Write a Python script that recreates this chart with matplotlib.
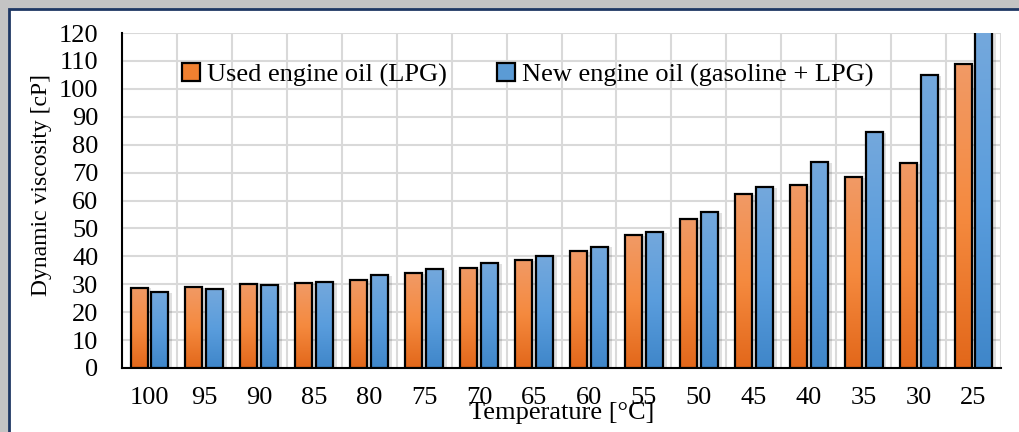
import matplotlib
matplotlib.use('Agg')
import matplotlib.pyplot as plt
import numpy as np
from matplotlib.patches import Rectangle
from matplotlib.colors import LinearSegmentedColormap

plt.rcParams['font.family'] = ['Liberation Serif', 'DejaVu Serif']

# 数据
temps = ['100', '95', '90', '85', '80', '75', '70', '65', '60', '55', '50', '45', '40', '35', '30', '25']
used_oil = [28.8, 29.1, 30.0, 30.4, 31.5, 34.0, 35.9, 38.8, 42.0, 47.6, 53.4, 62.3, 65.4, 68.3, 73.5, 109.0]
new_oil = [27.3, 28.2, 29.8, 30.7, 33.4, 35.5, 37.5, 40.1, 43.5, 48.8, 55.9, 64.7, 73.8, 84.5, 105.0, 125.0]
labels = ['Used engine oil (LPG)', 'New engine oil (gasoline + LPG)']

orange_cmap = LinearSegmentedColormap.from_list('o', ['#e2671a', '#f58a3f', '#f19a66'])
blue_cmap = LinearSegmentedColormap.from_list('b', ['#3f86c9', '#5a9ddd', '#74a8dc'])
YMAX = 120


def gradient_bars(ax, bars, cmap):
    """每根柱子用渐变填充"""
    grad = np.linspace(0, 1, 256).reshape(-1, 1)
    for b in bars:
        x0, y0 = b.get_x(), b.get_y()
        w, h = b.get_width(), b.get_height()
        top = min(y0 + h, YMAX)
        # 阴影
        ax.add_patch(Rectangle((x0 + 0.03, y0), w + 0.04, top - y0 - 0.3, facecolor='#000000',
                               alpha=0.12, linewidth=0, zorder=2))
        im = ax.imshow(grad, cmap=cmap, origin='lower', aspect='auto',
                       extent=[x0, x0 + w, y0, top], zorder=3)
        im.set_clip_path(b)
        b.set_facecolor('none')


fig = plt.figure(figsize=(10.19, 4.32), dpi=100)
fig.patch.set_facecolor('#c4c4c4')
fig.patches.append(Rectangle((9 / 1019, -0.1), 1.2, 1 - 9 / 432 + 0.1, transform=fig.transFigure,
                             facecolor='white', edgecolor='#1f3864', linewidth=2, zorder=-5))

ax = fig.add_axes([122 / 1019, 1 - 368 / 432, 879 / 1019, 335 / 432])
ax.set_facecolor('none')

x = np.arange(len(temps))
w = 0.31
off = 0.19
b1 = ax.bar(x - off, used_oil, w, edgecolor='black', linewidth=1.6, zorder=4, label=labels[0], color='#f08030')
b2 = ax.bar(x + off, new_oil, w, edgecolor='black', linewidth=1.6, zorder=4, label=labels[1], color='#5b9bd5')

ax.set_xlim(-0.5, len(temps) - 0.5)
ax.set_ylim(0, YMAX)

leg = ax.legend(loc='center left', bbox_to_anchor=(0.068, 0.875), ncol=2, frameon=False,
                fontsize=19, handlelength=0.7, handleheight=0.7, handletextpad=0.25,
                columnspacing=1.9, borderaxespad=0, borderpad=0)
for h, fc in zip(leg.legend_handles, ['#f08030', '#5b9bd5']):
    h.set_facecolor(fc)

gradient_bars(ax, b1, orange_cmap)
gradient_bars(ax, b2, blue_cmap)

ax.set_yticks(np.arange(0, 121, 10))
ax.set_xticks(x)
ax.set_xticklabels(temps)
ax.set_xticks(np.arange(-0.5, len(temps), 1), minor=True)
ax.tick_params(axis='both', which='both', length=0, labelsize=19)
ax.tick_params(axis='y', pad=17)
ax.tick_params(axis='x', pad=14)

ax.grid(axis='y', color='#d9d9d9', linewidth=1.5, zorder=0)
ax.grid(axis='x', which='minor', color='#d9d9d9', linewidth=1.5, zorder=0)
ax.set_axisbelow(True)

for s in ['top', 'right']:
    ax.spines[s].set_visible(False)
ax.spines['left'].set_linewidth(1.5)
ax.spines['bottom'].set_linewidth(1.5)

ax.set_ylabel('Dynamic viscosity [cP]', fontsize=17)
ax.yaxis.set_label_coords(-0.08, 0.545)
ax.set_xlabel('Temperature [°C]', fontsize=19, labelpad=-5)

fig.savefig('out.png', dpi=100, facecolor=fig.get_facecolor())
